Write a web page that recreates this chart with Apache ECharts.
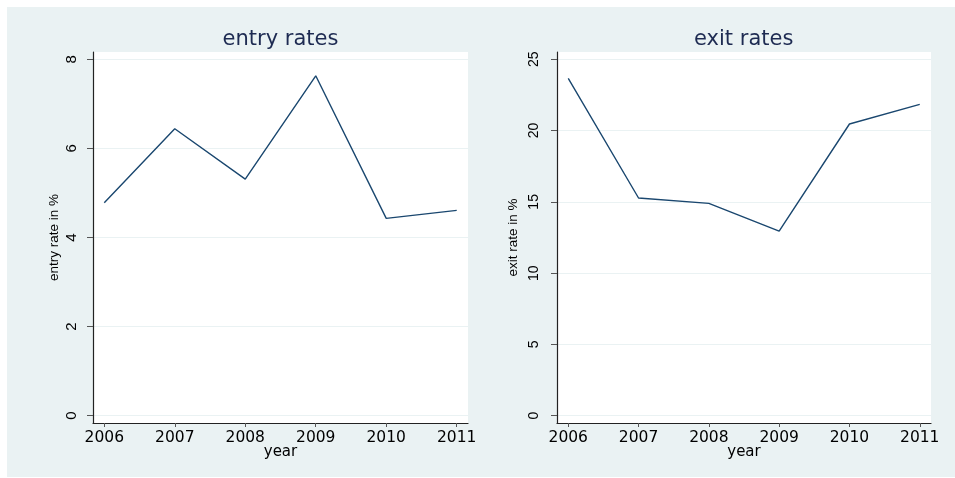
<!DOCTYPE html>
<html>
<head>
<meta charset="utf-8">
<script src="https://cdn.jsdelivr.net/npm/echarts@6/dist/echarts.min.js"></script>
<style>
html,body{margin:0;padding:0;background:#fff;}
#wrap{position:relative;width:955px;height:478px;overflow:hidden;}
#panel{position:absolute;left:7px;top:7px;width:948px;height:470px;background:#eaf2f3;}
#chart{position:absolute;left:0;top:0;width:955px;height:478px;}
</style>
</head>
<body>
<div id="wrap"><div id="panel"></div><div id="chart"></div></div>
<script>
const years = [2006, 2007, 2008, 2009, 2010, 2011];
const entryRates = [4.78, 6.44, 5.31, 7.63, 4.43, 4.61];
const exitRates = [23.66, 15.27, 14.89, 12.95, 20.46, 21.84];
const entryTicks = [0, 2, 4, 6, 8];
const exitTicks = [0, 5, 10, 15, 20, 25];
const yearTicks = [2006, 2007, 2008, 2009, 2010, 2011];

const lineColor = '#1a476f';
const titleColor = '#1e2b52';
const font = 'Liberation Sans';
const wideFont = 'DejaVu Sans';

function xAxisCfg(idx) {
  return {
    type: 'value', gridIndex: idx, min: 2005.84, max: 2011.16,
    name: 'year', nameLocation: 'middle', nameGap: 22, nameMoveOverlap: false,
    nameTextStyle: {fontFamily: wideFont, fontSize: 15, color: '#000'},
    axisLine: {show: true, onZero: false, lineStyle: {color: '#222', width: 1.2}},
    axisTick: {show: true, length: 4, customValues: yearTicks, lineStyle: {color: '#555'}},
    axisLabel: {customValues: yearTicks, fontFamily: wideFont, fontSize: 15.5, color: '#000', margin: 7,
      formatter: v => String(Math.round(v))},
    splitLine: {show: false}
  };
}
function yAxisCfg(idx, min, max, ticks, name, nameGap, margin, labelSize) {
  return {
    type: 'value', gridIndex: idx, min: min, max: max,
    name: name, nameLocation: 'middle', nameGap: nameGap, nameRotate: 90, nameMoveOverlap: false,
    nameTextStyle: {fontFamily: font, fontSize: 13.5, color: '#000'},
    axisLine: {show: true, onZero: false, lineStyle: {color: '#222', width: 1.2}},
    axisTick: {show: true, length: 6, customValues: ticks, lineStyle: {color: '#555'}},
    axisLabel: {customValues: ticks, rotate: 90, fontFamily: font, fontSize: labelSize, color: '#000', margin: margin},
    splitLine: {show: true, lineStyle: {color: '#eaf2f3', width: 1}}
  };
}

const chart = echarts.init(document.getElementById('chart'), null, {renderer: 'canvas'});
chart.setOption({
  backgroundColor: 'transparent',
  animation: false,
  title: [
    {text: 'entry rates', left: 280.5, top: 29, textAlign: 'center', padding: 0,
     textStyle: {fontFamily: wideFont, fontSize: 21, fontWeight: 'normal', color: titleColor}},
    {text: 'exit rates', left: 743.7, top: 29, textAlign: 'center', padding: 0,
     textStyle: {fontFamily: wideFont, fontSize: 21, fontWeight: 'normal', color: titleColor}}
  ],
  grid: [
    {left: 93, top: 52, width: 375, height: 371, show: true, backgroundColor: '#fff', borderWidth: 0},
    {left: 557, top: 52, width: 374, height: 371, show: true, backgroundColor: '#fff', borderWidth: 0}
  ],
  xAxis: [xAxisCfg(0), xAxisCfg(1)],
  yAxis: [
    yAxisCfg(0, -0.164, 8.164, entryTicks, 'entry rate in %', 32, 14, 15),
    yAxisCfg(1, -0.51, 25.51, exitTicks, 'exit rate in %', 37, 16, 14)
  ],
  series: [
    {type: 'line', xAxisIndex: 0, yAxisIndex: 0, showSymbol: false, silent: true,
     lineStyle: {color: lineColor, width: 1.4},
     data: years.map((y, i) => [y, entryRates[i]])},
    {type: 'line', xAxisIndex: 1, yAxisIndex: 1, showSymbol: false, silent: true,
     lineStyle: {color: lineColor, width: 1.4},
     data: years.map((y, i) => [y, exitRates[i]])}
  ]
});
</script>
</body>
</html>
